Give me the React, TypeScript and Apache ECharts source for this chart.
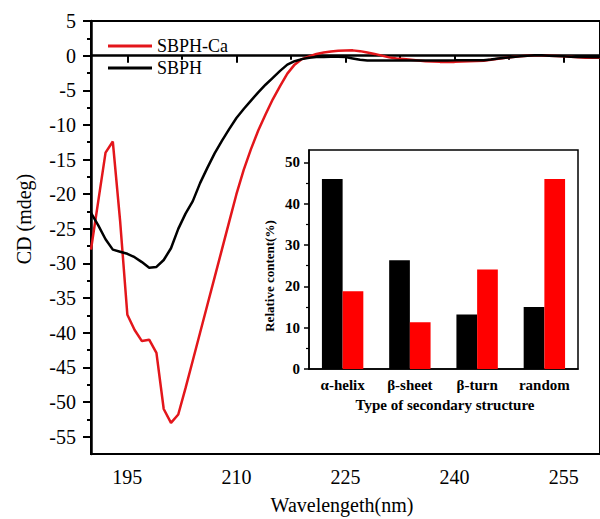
import React, { useEffect, useRef } from "react";
import * as echarts from "echarts";

const wavelengths = [
  190, 191, 192, 193, 194, 195, 196, 197, 198, 199,
  200, 201, 202, 203, 204, 205, 206, 207, 208, 209,
  210, 211, 212, 213, 214, 215, 216, 217, 218, 219,
  220, 221, 222, 223, 224, 225, 226, 227, 228, 229,
  230, 231, 232, 233, 234, 235, 236, 237, 238, 239,
  240, 241, 242, 243, 244, 245, 246, 247, 248, 249,
  250, 251, 252, 253, 254, 255, 256, 257, 258, 259, 260,
];

const sbphCa = [
  -28.0, -21.0, -14.0, -12.4, -23.8, -37.4, -39.6, -41.2, -41.0, -42.9,
  -51.0, -53.0, -51.8, -48.0, -44.0, -40.0, -36.0, -32.0, -28.0, -24.0,
  -20.0, -16.5, -13.5, -10.8, -8.5, -6.3, -4.4, -2.6, -1.3, -0.5,
  -0.1, 0.25, 0.45, 0.6, 0.7, 0.75, 0.76, 0.65, 0.45, 0.25,
  0.0, -0.25, -0.4, -0.5, -0.6, -0.7, -0.8, -0.85, -0.9, -0.9,
  -0.9, -0.85, -0.8, -0.78, -0.75, -0.6, -0.45, -0.3, -0.2, -0.1,
  0.0, 0.05, 0.05, 0.0, -0.05, -0.1, -0.15, -0.25, -0.3, -0.3, -0.3,
];

const sbph = [
  -22.7, -24.5, -26.5, -28.0, -28.3, -28.6, -29.1, -29.8, -30.6, -30.5,
  -29.5, -27.8, -25.0, -22.8, -21.0, -18.4, -16.2, -14.1, -12.3, -10.6,
  -9.0, -7.7, -6.5, -5.3, -4.2, -3.2, -2.2, -1.3, -0.8, -0.5,
  -0.3, -0.2, -0.2, -0.15, -0.15, -0.2, -0.4, -0.6, -0.7, -0.7,
  -0.7, -0.7, -0.7, -0.7, -0.7, -0.7, -0.7, -0.7, -0.7, -0.7,
  -0.68, -0.65, -0.65, -0.65, -0.65, -0.55, -0.4, -0.3, -0.2, -0.1,
  0.0, 0.05, 0.05, 0.0, -0.05, -0.1, -0.15, -0.2, -0.2, -0.25, -0.25,
];

const xMajorTicks = [195, 210, 225, 240, 255];
const xMinorTicks = [202.5, 217.5, 232.5, 247.5];
const yMajorTicks = [-55, -50, -45, -40, -35, -30, -25, -20, -15, -10, -5, 0, 5];
const yMinorTicks = [-52.5, -47.5, -42.5, -37.5, -32.5, -27.5, -22.5, -17.5, -12.5, -7.5, -2.5, 2.5];

const structureTypes = ["α-helix", "β-sheet", "β-turn", "random"];
const sbphContent = [46.0, 26.3, 13.2, 15.0];
const sbphCaContent = [18.8, 11.3, 24.1, 46.0];
const insetMajorTicks = [0, 10, 20, 30, 40, 50];
const insetMinorTicks = [5, 15, 25, 35, 45];

const SERIF = "'Liberation Serif', 'Times New Roman', serif";
const RED = "#e3161b";

export default function App() {
  const ref = useRef<HTMLDivElement>(null);

  useEffect(() => {
    if (!ref.current) return;
    const chart = echarts.init(ref.current, null, { renderer: "svg" });

    const redPts = wavelengths.map((w, i) => [w, sbphCa[i]]);
    const blackPts = wavelengths.map((w, i) => [w, sbph[i]]);

    chart.setOption({
      animation: false,
      backgroundColor: "#fff",
      textStyle: { fontFamily: SERIF },
      grid: [
        {
          left: 91,
          top: 21,
          right: -6,
          bottom: 65,
          show: true,
          borderColor: "#000",
          borderWidth: 2,
          backgroundColor: "transparent",
        },
        {
          left: 309,
          top: 150,
          right: 22,
          bottom: 150,
          show: true,
          borderColor: "#000",
          borderWidth: 1.5,
          backgroundColor: "#fff",
          z: 5,
        },
      ],
      legend: {
        orient: "vertical",
        left: 108,
        top: 37,
        padding: 0,
        itemWidth: 44,
        itemHeight: 3,
        itemGap: 4,
        textStyle: { fontSize: 18, fontFamily: SERIF, color: "#000" },
        data: [
          { name: "SBPH-Ca", icon: "rect" },
          { name: "SBPH", icon: "rect" },
        ],
      },
      xAxis: [
        {
          type: "value",
          gridIndex: 0,
          min: 190,
          max: 260,
          position: "bottom",
          axisLine: { show: true, lineStyle: { color: "#000", width: 2.5 } },
          axisTick: { show: true, customValues: xMajorTicks, length: 7, lineStyle: { color: "#000", width: 2 } },
          axisLabel: { customValues: xMajorTicks, fontSize: 20, margin: 13, color: "#000", fontFamily: SERIF },
          splitLine: { show: false },
        },
        {
          type: "value",
          gridIndex: 0,
          min: 190,
          max: 260,
          position: "bottom",
          axisLine: { show: false },
          axisTick: { show: true, customValues: xMinorTicks, length: 4, lineStyle: { color: "#000", width: 2 } },
          axisLabel: { show: false },
          splitLine: { show: false },
        },
        {
          type: "category",
          gridIndex: 1,
          data: structureTypes,
          axisLine: { show: true, lineStyle: { color: "#000", width: 1.5 } },
          axisTick: { show: false },
          axisLabel: { fontSize: 15, fontWeight: "bold", margin: 8, color: "#000", fontFamily: SERIF },
          splitLine: { show: false },
          z: 6,
        },
      ],
      yAxis: [
        {
          type: "value",
          gridIndex: 0,
          min: -57.5,
          max: 5,
          position: "left",
          axisLine: { show: true, lineStyle: { color: "#000", width: 2.5 } },
          axisTick: { show: true, customValues: yMajorTicks, length: 8, lineStyle: { color: "#000", width: 2 } },
          axisLabel: { customValues: yMajorTicks, fontSize: 20, margin: 15, color: "#000", fontFamily: SERIF },
          splitLine: { show: false },
        },
        {
          type: "value",
          gridIndex: 0,
          min: -57.5,
          max: 5,
          position: "left",
          axisLine: { show: false },
          axisTick: { show: true, customValues: yMinorTicks, length: 4, lineStyle: { color: "#000", width: 2 } },
          axisLabel: { show: false },
          splitLine: { show: false },
        },
        {
          type: "value",
          gridIndex: 1,
          min: 0,
          max: 53,
          position: "left",
          axisLine: { show: true, lineStyle: { color: "#000", width: 1.5 } },
          axisTick: { show: true, customValues: insetMajorTicks, length: 5, lineStyle: { color: "#000", width: 1.5 } },
          axisLabel: { customValues: insetMajorTicks, fontSize: 15, fontWeight: "bold", margin: 9, color: "#000", fontFamily: SERIF },
          splitLine: { show: false },
          z: 6,
        },
        {
          type: "value",
          gridIndex: 1,
          min: 0,
          max: 53,
          position: "left",
          axisLine: { show: false },
          axisTick: { show: true, customValues: insetMinorTicks, length: 3, lineStyle: { color: "#000", width: 1.2 } },
          axisLabel: { show: false },
          splitLine: { show: false },
          z: 6,
        },
      ],
      series: [
        {
          name: "SBPH-Ca",
          type: "line",
          xAxisIndex: 0,
          yAxisIndex: 0,
          data: redPts,
          showSymbol: false,
          symbol: "none",
          smooth: false,
          color: RED,
          lineStyle: { color: RED, width: 2.5 },
          z: 3,
        },
        {
          name: "SBPH",
          type: "line",
          xAxisIndex: 0,
          yAxisIndex: 0,
          data: blackPts,
          showSymbol: false,
          symbol: "none",
          smooth: false,
          color: "#000",
          lineStyle: { color: "#000", width: 2.5 },
          z: 3,
        },
        {
          name: "SBPH bars",
          type: "bar",
          xAxisIndex: 2,
          yAxisIndex: 2,
          data: sbphContent,
          barWidth: 20.7,
          barGap: "0%",
          itemStyle: { color: "#000" },
          z: 7,
        },
        {
          name: "SBPH-Ca bars",
          type: "bar",
          xAxisIndex: 2,
          yAxisIndex: 2,
          data: sbphCaContent,
          barWidth: 20.7,
          barGap: "0%",
          itemStyle: { color: "#ff0000" },
          z: 7,
        },
      ],
      graphic: [
        {
          type: "text",
          x: 24,
          y: 219,
          rotation: Math.PI / 2,
          style: {
            text: "CD (mdeg)",
            fontSize: 20,
            fontFamily: SERIF,
            fill: "#000",
            align: "center",
            verticalAlign: "middle",
          },
        },
        {
          type: "text",
          x: 342,
          y: 505,
          style: {
            text: "Wavelengeth(nm)",
            fontSize: 20,
            fontFamily: SERIF,
            fill: "#000",
            align: "center",
            verticalAlign: "middle",
          },
        },
        {
          type: "text",
          x: 269,
          y: 276,
          rotation: Math.PI / 2,
          z: 10,
          style: {
            text: "Relative content(%)",
            fontSize: 13,
            fontWeight: "bold",
            fontFamily: SERIF,
            fill: "#000",
            align: "center",
            verticalAlign: "middle",
          },
        },
        {
          type: "text",
          x: 445,
          y: 405,
          z: 10,
          style: {
            text: "Type of secondary structure",
            fontSize: 15,
            fontWeight: "bold",
            fontFamily: SERIF,
            fill: "#000",
            align: "center",
            verticalAlign: "middle",
          },
        },
      ],
    });

    return () => {
      chart.dispose();
    };
  }, []);

  return (
    <div
      ref={ref}
      style={{ position: "fixed", left: 0, top: 0, width: 600, height: 519 }}
    />
  );
}
